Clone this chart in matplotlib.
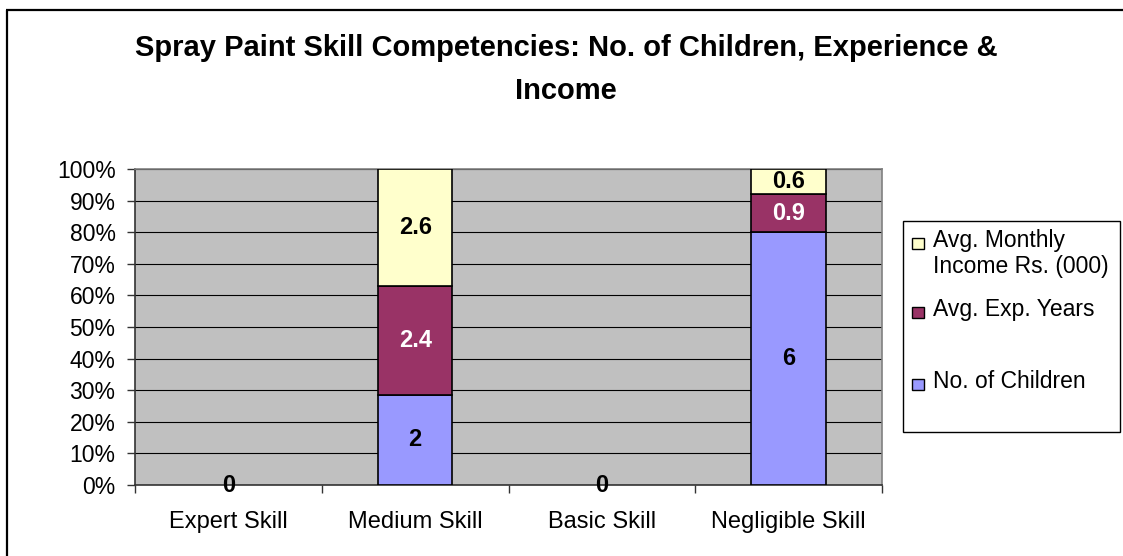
import matplotlib.pyplot as plt
import numpy as np
from matplotlib.patches import Rectangle
from matplotlib.lines import Line2D
from matplotlib.ticker import FixedLocator, PercentFormatter

plt.rcParams['font.family'] = ['Liberation Sans', 'DejaVu Sans']

categories = ["Expert Skill", "Medium Skill", "Basic Skill", "Negligible Skill"]
series_names = ["No. of Children", "Avg. Exp. Years", "Avg. Monthly\nIncome Rs. (000)"]
children = [0, 2, 0, 6]
exp_years = [0, 2.4, 0, 0.9]
income = [0, 2.6, 0, 0.6]

colors = ["#9999FF", "#993366", "#FFFFCC"]
label_colors = ["black", "white", "black"]

values = np.array([children, exp_years, income], dtype=float)
totals = values.sum(axis=0)
shares = np.divide(values * 100, totals, out=np.zeros_like(values), where=totals > 0)

fig = plt.figure(figsize=(11.23, 5.56), dpi=100)
ax = fig.add_axes([135 / 1123, 1 - 485 / 556, 747 / 1123, 316 / 556])
ax.set_facecolor("#C0C0C0")

x = np.arange(len(categories))
filled = totals > 0
bottom = np.zeros(len(categories))
for row, vals, color, tcolor in zip(shares, values, colors, label_colors):
    ax.bar(x[filled], row[filled], 0.4, bottom=bottom[filled], color=color,
           edgecolor="black", linewidth=1.2, zorder=3)
    for i in np.flatnonzero(filled):
        ax.text(x[i], bottom[i] + row[i] / 2, f"{vals[i]:g}", ha="center",
                va="center", fontsize=17, fontweight="bold", color=tcolor, zorder=4)
    bottom += row

# empty categories just show a zero at the baseline
for i in np.flatnonzero(~filled):
    ax.text(x[i], 0, "0", ha="center", va="center", fontsize=17,
            fontweight="bold", color="black", zorder=4)

ax.set_xlim(-0.5, len(categories) - 0.5)
ax.set_ylim(0, 100)
ax.set_yticks(np.arange(0, 101, 10))
ax.yaxis.set_major_formatter(PercentFormatter(decimals=0))
ax.yaxis.grid(True, color="black", linewidth=0.8, zorder=1)
ax.set_axisbelow(True)

ax.set_xticks(x)
ax.set_xticklabels(categories)
ax.xaxis.set_minor_locator(FixedLocator(np.arange(-0.5, len(categories), 1)))
ax.tick_params(axis="x", which="major", length=0, pad=19, labelsize=17)
ax.tick_params(axis="x", which="minor", length=6, width=1, color="#333333")
ax.tick_params(axis="y", length=6, width=1, color="#333333", pad=8, labelsize=16.5)

for side in ["left", "bottom"]:
    ax.spines[side].set_color("#333333")
    ax.spines[side].set_linewidth(1.2)
for side in ["top", "right"]:
    ax.spines[side].set_color("#808080")
    ax.spines[side].set_linewidth(1.2)

fig.text(566 / 1123, 1 - 48 / 556, "Spray Paint Skill Competencies: No. of Children, Experience &",
         ha="center", va="center", fontsize=21, fontweight="bold")
fig.text(566 / 1123, 1 - 91 / 556, "Income",
         ha="center", va="center", fontsize=21, fontweight="bold")

# legend box, entries listed top to bottom in reverse series order
lx0, ly0, lw, lh = 903 / 1123, 1 - 432 / 556, 217 / 1123, 211 / 556
fig.patches.append(Rectangle((lx0, ly0), lw, lh, transform=fig.transFigure,
                             facecolor="white", edgecolor="black", linewidth=1))
entry_y = [243, 312, 384]
for name, color, ey in zip(series_names[::-1], colors[::-1], entry_y):
    fy = 1 - ey / 556
    fig.patches.append(Rectangle((912 / 1123, fy - 5.5 / 556), 12 / 1123, 11 / 556,
                                 transform=fig.transFigure, facecolor=color,
                                 edgecolor="black", linewidth=1))
    fig.text(933 / 1123, fy + 14 / 556, name, ha="left", va="top",
             fontsize=16.5, linespacing=1.15)

# outer chart frame
fig.add_artist(Line2D([7 / 1123, 7 / 1123], [0, 1 - 10 / 556], transform=fig.transFigure,
                      color="black", linewidth=1.6, solid_capstyle="butt"))
fig.add_artist(Line2D([6 / 1123, 1], [1 - 10 / 556, 1 - 10 / 556], transform=fig.transFigure,
                      color="black", linewidth=1.6, solid_capstyle="butt"))

fig.savefig("out.png", dpi=100)
